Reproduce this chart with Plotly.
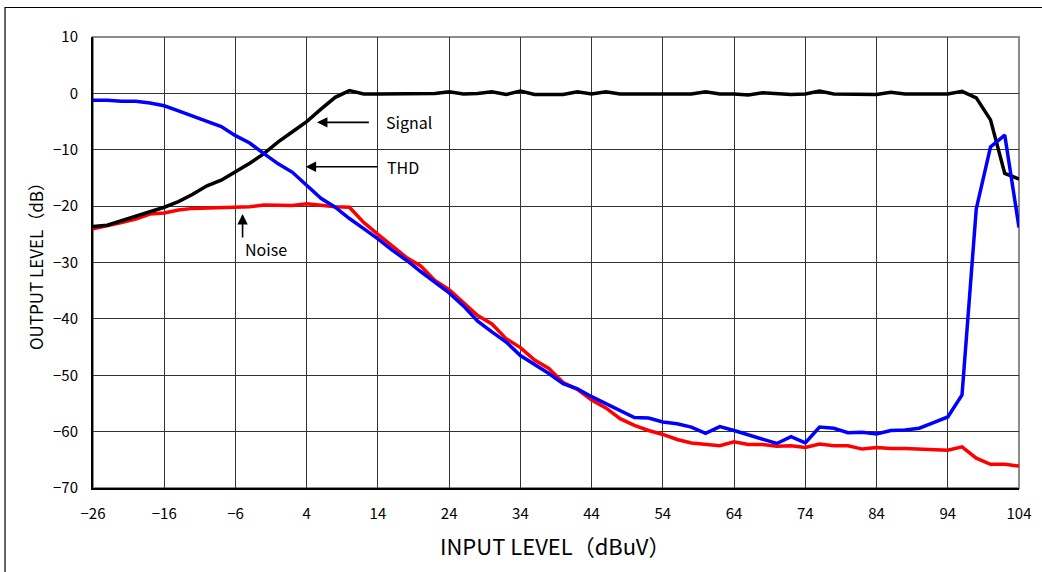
import plotly.graph_objects as go

input_level = [-26, -24, -22, -20, -18, -16, -14, -12, -10, -8, -6, -4, -2, 0, 2, 4, 6, 8, 10, 12,
               14, 16, 18, 20, 22, 24, 26, 28, 30, 32, 34, 36, 38, 40, 42, 44, 46, 48, 50, 52,
               54, 56, 58, 60, 62, 64, 66, 68, 70, 72, 74, 76, 78, 80, 82, 84, 86, 88, 90, 92,
               94, 96, 98, 100, 102, 104]

signal = [-23.6, -23.4, -22.6, -21.8, -20.9, -20.2, -19.2, -17.9, -16.4, -15.4, -13.9, -12.4, -10.7, -8.6, -6.8, -5.0, -2.8, -0.7, 0.5, -0.1,
          -0.1, -0.1, -0.1, -0.1, 0.0, 0.3, -0.1, 0.0, 0.3, -0.2, 0.4, -0.2, -0.2, -0.2, 0.3, -0.1, 0.3, -0.1, -0.1, -0.1,
          -0.1, -0.1, -0.1, 0.3, -0.1, -0.1, -0.3, 0.1, -0.1, -0.2, -0.1, 0.4, -0.1, -0.1, -0.1, -0.2, 0.2, -0.1, -0.1, -0.1,
          -0.1, 0.35, -0.8, -4.7, -14.2, -15.2]

thd = [-1.2, -1.2, -1.4, -1.4, -1.7, -2.2, -3.1, -4.0, -5.0, -5.9, -7.5, -8.8, -10.7, -12.5, -14.0, -16.4, -18.6, -20.2, -22.2, -24.0,
       -25.8, -27.8, -29.6, -31.6, -33.5, -35.4, -37.7, -40.4, -42.3, -44.1, -46.5, -48.1, -49.7, -51.5, -52.4, -53.8, -55.0, -56.2, -57.5, -57.6,
       -58.3, -58.6, -59.2, -60.3, -59.1, -59.8, -60.6, -61.3, -62.1, -60.9, -62.0, -59.2, -59.4, -60.2, -60.1, -60.4, -59.8, -59.7, -59.4, -58.4,
       -57.4, -53.5, -20.5, -9.5, -7.4, -23.8]

noise = [-24.0, -23.5, -22.9, -22.3, -21.4, -21.2, -20.7, -20.4, -20.3, -20.2, -20.2, -20.1, -19.8, -19.9, -19.9, -19.6, -19.9, -20.1, -20.2, -22.9,
         -25.0, -27.0, -29.1, -30.6, -33.2, -34.8, -37.1, -39.4, -40.9, -43.5, -45.1, -47.3, -48.8, -51.3, -52.5, -54.4, -55.8, -57.7, -58.9, -59.8,
         -60.5, -61.4, -62.0, -62.3, -62.5, -61.8, -62.3, -62.3, -62.6, -62.5, -62.8, -62.2, -62.5, -62.5, -63.1, -62.8, -63.0, -63.0, -63.1, -63.2,
         -63.3, -62.7, -64.7, -65.8, -65.8, -66.1]

x_ticks = [-26, -16, -6, 4, 14, 24, 34, 44, 54, 64, 74, 84, 94, 104]
y_ticks = [10, 0, -10, -20, -30, -40, -50, -60, -70]

FONT = "Noto Sans CJK JP"

fig = go.Figure()
fig.add_trace(go.Scatter(x=input_level, y=noise, mode="lines", name="Noise",
                         line=dict(color="#ff0000", width=3.5)))
fig.add_trace(go.Scatter(x=input_level, y=signal, mode="lines", name="Signal",
                         line=dict(color="#000000", width=3.5)))
fig.add_trace(go.Scatter(x=input_level, y=thd, mode="lines", name="THD",
                         line=dict(color="#0000ff", width=3.5)))

# plot-area frame (grey) and outer chart border
fig.add_shape(type="rect", xref="paper", yref="paper", x0=0, x1=1, y0=0, y1=1,
              line=dict(color="#8c8c8c", width=2), layer="below")
fig.add_shape(type="rect", xref="paper", yref="paper", x0=-0.095, x1=1.2, y0=-0.4, y1=1.0654,
              line=dict(color="#000000", width=1.2), layer="below")

arrow_common = dict(showarrow=True, arrowhead=2, arrowsize=1.3, arrowwidth=1.6,
                    arrowcolor="#000000", axref="x", ayref="y", text="")
fig.add_annotation(x=5.45, y=-5.14, ax=12.94, ay=-5.14, **arrow_common)
fig.add_annotation(x=3.86, y=-13.02, ax=14.15, ay=-13.02, **arrow_common)
fig.add_annotation(x=-5.0, y=-21.41, ax=-5.0, ay=-25.85, **arrow_common)

txt_font = dict(family=FONT, size=16, color="#000000")
fig.add_annotation(x=14.85, y=-5.14, text="Signal", showarrow=False, xanchor="left",
                   yanchor="middle", font=txt_font)
fig.add_annotation(x=14.94, y=-13.02, text="THD", showarrow=False, xanchor="left",
                   yanchor="middle", font=txt_font)
fig.add_annotation(x=-5.0, y=-27.6, text="Noise", showarrow=False, xanchor="left",
                   yanchor="middle", font=txt_font)

# axis titles
fig.add_annotation(xref="paper", yref="paper", x=0.4989, y=-0.1264, text="INPUT LEVEL（dBuV）",
                   showarrow=False, xanchor="center", yanchor="middle",
                   font=dict(family=FONT, size=22, color="#000000"))
fig.add_annotation(xref="paper", yref="paper", x=-0.0626, y=0.501, text="OUTPUT LEVEL（dB）",
                   showarrow=False, xanchor="center", yanchor="middle", textangle=-90,
                   font=dict(family=FONT, size=17, color="#000000"))

fig.update_xaxes(range=[-26, 104], tickmode="array", tickvals=x_ticks,
                 showgrid=True, gridcolor="#333333", gridwidth=1,
                 showline=True, linecolor="#000000", linewidth=2, mirror=False,
                 zeroline=False, ticks="", ticklabelstandoff=11,
                 tickfont=dict(family=FONT, size=15, color="#000000"))
fig.update_yaxes(range=[-70, 10], tickmode="array", tickvals=y_ticks,
                 showgrid=True, gridcolor="#333333", gridwidth=1,
                 showline=True, linecolor="#000000", linewidth=2, mirror=False,
                 zeroline=False, ticks="", ticklabelstandoff=10,
                 tickfont=dict(family=FONT, size=15, color="#000000"))

fig.update_layout(width=1042, height=572, margin=dict(l=93, r=23, t=37, b=84),
                  paper_bgcolor="#ffffff", plot_bgcolor="#ffffff", showlegend=False,
                  font=dict(family=FONT, color="#000000"))

fig.write_html("out.html")
